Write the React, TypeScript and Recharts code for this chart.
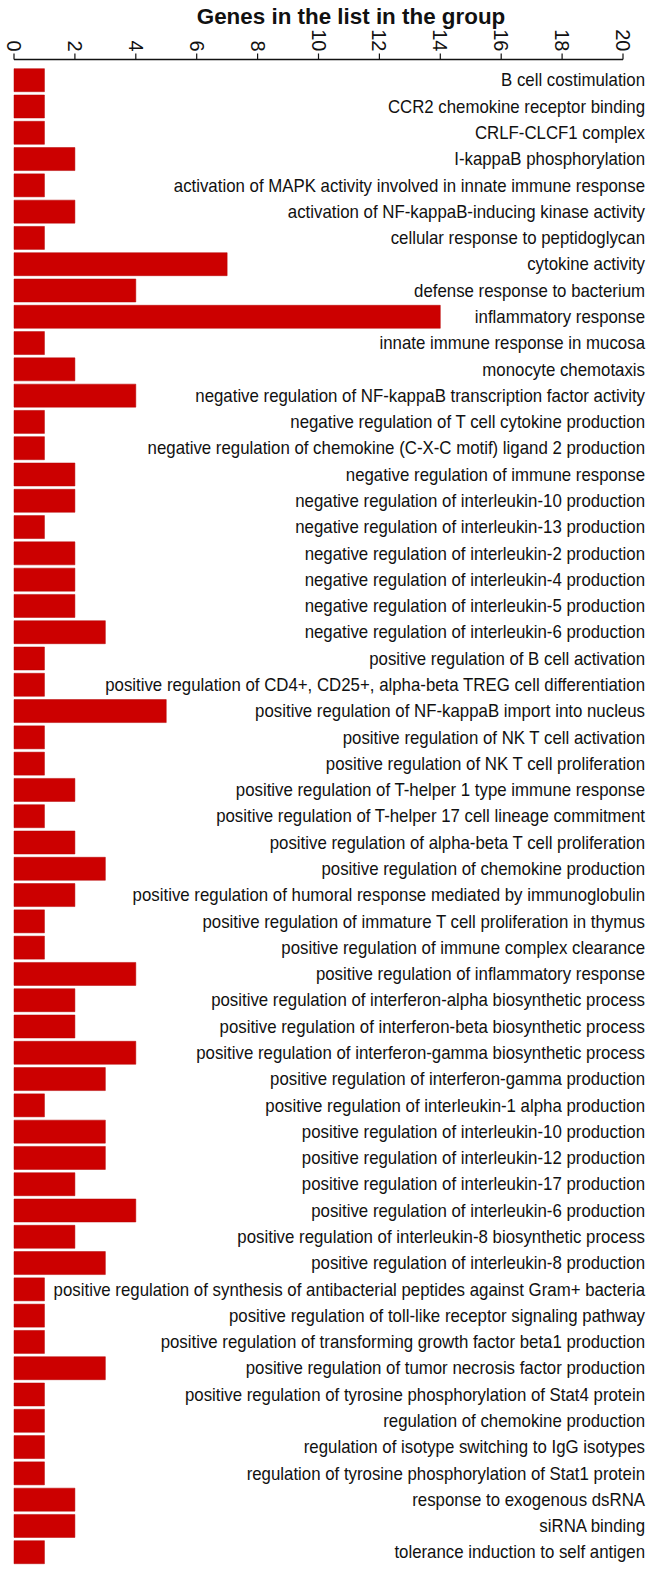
import { Bar, BarChart, Label, XAxis, YAxis } from "recharts";

const categories = [
  "B cell costimulation",
  "CCR2 chemokine receptor binding",
  "CRLF-CLCF1 complex",
  "I-kappaB phosphorylation",
  "activation of MAPK activity involved in innate immune response",
  "activation of NF-kappaB-inducing kinase activity",
  "cellular response to peptidoglycan",
  "cytokine activity",
  "defense response to bacterium",
  "inflammatory response",
  "innate immune response in mucosa",
  "monocyte chemotaxis",
  "negative regulation of NF-kappaB transcription factor activity",
  "negative regulation of T cell cytokine production",
  "negative regulation of chemokine (C-X-C motif) ligand 2 production",
  "negative regulation of immune response",
  "negative regulation of interleukin-10 production",
  "negative regulation of interleukin-13 production",
  "negative regulation of interleukin-2 production",
  "negative regulation of interleukin-4 production",
  "negative regulation of interleukin-5 production",
  "negative regulation of interleukin-6 production",
  "positive regulation of B cell activation",
  "positive regulation of CD4+, CD25+, alpha-beta TREG cell differentiation",
  "positive regulation of NF-kappaB import into nucleus",
  "positive regulation of NK T cell activation",
  "positive regulation of NK T cell proliferation",
  "positive regulation of T-helper 1 type immune response",
  "positive regulation of T-helper 17 cell lineage commitment",
  "positive regulation of alpha-beta T cell proliferation",
  "positive regulation of chemokine production",
  "positive regulation of humoral response mediated by immunoglobulin",
  "positive regulation of immature T cell proliferation in thymus",
  "positive regulation of immune complex clearance",
  "positive regulation of inflammatory response",
  "positive regulation of interferon-alpha biosynthetic process",
  "positive regulation of interferon-beta biosynthetic process",
  "positive regulation of interferon-gamma biosynthetic process",
  "positive regulation of interferon-gamma production",
  "positive regulation of interleukin-1 alpha production",
  "positive regulation of interleukin-10 production",
  "positive regulation of interleukin-12 production",
  "positive regulation of interleukin-17 production",
  "positive regulation of interleukin-6 production",
  "positive regulation of interleukin-8 biosynthetic process",
  "positive regulation of interleukin-8 production",
  "positive regulation of synthesis of antibacterial peptides against Gram+ bacteria",
  "positive regulation of toll-like receptor signaling pathway",
  "positive regulation of transforming growth factor beta1 production",
  "positive regulation of tumor necrosis factor production",
  "positive regulation of tyrosine phosphorylation of Stat4 protein",
  "regulation of chemokine production",
  "regulation of isotype switching to IgG isotypes",
  "regulation of tyrosine phosphorylation of Stat1 protein",
  "response to exogenous dsRNA",
  "siRNA binding",
  "tolerance induction to self antigen",
];

const geneCounts = [
  1, 1, 1, 2, 1, 2, 1, 7, 4, 14, 1, 2, 4, 1, 1, 2, 2, 1, 2, 2, 2, 3, 1, 1, 5,
  1, 1, 2, 1, 2, 3, 2, 1, 1, 4, 2, 2, 4, 3, 1, 3, 3, 2, 4, 2, 3, 1, 1, 1, 3,
  1, 1, 1, 1, 2, 2, 1,
];

const xTicks = [0, 2, 4, 6, 8, 10, 12, 14, 16, 18, 20];

const title = "Genes in the list in the group";

const data = categories.map((term, i) => ({ term, genes: geneCounts[i] }));

const FONT = "'Liberation Sans', Arial, sans-serif";
const LABEL_RIGHT = 645;

// term labels look a bit squeezed in the original, so narrow them slightly
function TermTick({ y, payload }: any) {
  return (
    <g transform={`translate(${LABEL_RIGHT},${y}) scale(0.925,1)`}>
      <text
        x={0}
        y={0}
        dy="0.36em"
        textAnchor="end"
        fontFamily={FONT}
        fontSize={18.2}
        fill="#111"
      >
        {payload.value}
      </text>
    </g>
  );
}

function CountTick({ x, y, payload }: any) {
  return (
    <text
      transform={`translate(${x},${y}) rotate(90)`}
      dy="0.35em"
      textAnchor="end"
      fontFamily={FONT}
      fontSize={20}
      fill="#111"
    >
      {payload.value}
    </text>
  );
}

export default function App() {
  return (
    <div style={{ position: "absolute", left: 0, top: 0, background: "#fff" }}>
      <BarChart
        width={658}
        height={1581}
        data={data}
        layout="vertical"
        margin={{ top: 0, right: 0, bottom: 16, left: 14 }}
      >
        <XAxis
          type="number"
          orientation="top"
          domain={[0, 20]}
          ticks={xTicks}
          height={59.5}
          axisLine={{ stroke: "#111", strokeWidth: 1.4 }}
          tickLine={{ stroke: "#111", strokeWidth: 1.2 }}
          tickSize={6}
          tickMargin={2}
          tick={<CountTick />}
        >
          <Label
            content={() => (
              <text
                x={351}
                y={24}
                textAnchor="middle"
                fontFamily={FONT}
                fontWeight="bold"
                fontSize={22.4}
                fill="#111"
              >
                {title}
              </text>
            )}
          />
        </XAxis>
        <YAxis
          type="category"
          dataKey="term"
          orientation="right"
          width={35}
          axisLine={false}
          tickLine={false}
          interval={0}
          padding={{ top: 7.2, bottom: 0 }}
          tick={<TermTick />}
        />
        <Bar
          dataKey="genes"
          fill="#cc0000"
          stroke="#b50000"
          strokeWidth={0.5}
          barSize={23}
          isAnimationActive={false}
        />
      </BarChart>
    </div>
  );
}
